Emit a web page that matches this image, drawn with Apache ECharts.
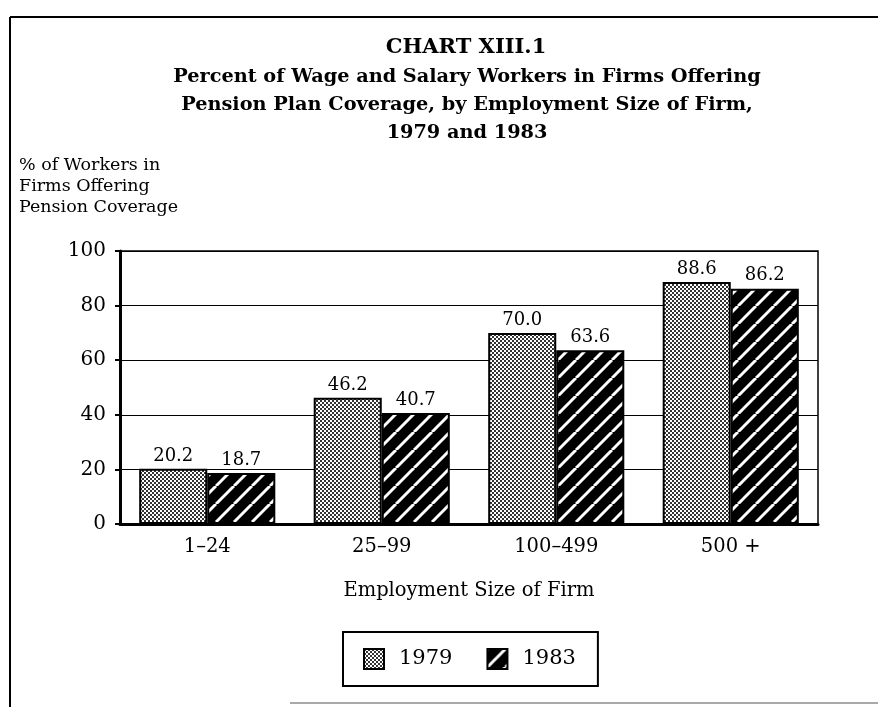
<!DOCTYPE html>
<html>
<head>
<meta charset="utf-8">
<script src="https://cdn.jsdelivr.net/npm/echarts@6/dist/echarts.min.js"></script>
<style>
  html, body { margin: 0; padding: 0; background: #fff; }
  #chart { width: 878px; height: 707px; }
</style>
</head>
<body>
<div id="chart"></div>
<script>
// data
var categories = ['1–24', '25–99', '100–499', '500 +'];
var years = ['1979', '1983'];
var values1979 = [20.2, 46.2, 70.0, 88.6];
var values1983 = [18.7, 40.7, 63.6, 86.2];
var yTicks = [0, 20, 40, 60, 80, 100];

var FONT = 'DejaVu Serif';

// stipple fill for 1979
function dotPattern() {
  var c = document.createElement('canvas');
  c.width = 4; c.height = 4;
  var ctx = c.getContext('2d');
  ctx.fillStyle = '#fff';
  ctx.fillRect(0, 0, 4, 4);
  ctx.fillStyle = '#333';
  ctx.fillRect(0, 0, 2, 2);
  ctx.fillRect(2, 2, 2, 2);
  return c;
}

// black with white diagonal stripes for 1983
function stripePattern() {
  var s = 18;
  var c = document.createElement('canvas');
  c.width = s; c.height = s;
  var ctx = c.getContext('2d');
  ctx.fillStyle = '#000';
  ctx.fillRect(0, 0, s, s);
  ctx.strokeStyle = '#fff';
  ctx.lineWidth = 3;
  [-s, 0, s].forEach(function (k) {
    ctx.beginPath();
    ctx.moveTo(k, s);
    ctx.lineTo(k + s, 0);
    ctx.stroke();
  });
  return c;
}

var chart = echarts.init(document.getElementById('chart'));

var labelStyle = {
  show: true,
  position: 'top',
  distance: 4,
  color: '#000',
  fontFamily: FONT,
  fontSize: 18,
  formatter: function (p) { return p.value.toFixed(1); }
};

var option = {
  backgroundColor: '#fff',
  animation: false,
  title: [
    {
      text: 'CHART XIII.1',
      left: 461,
      top: 32,
      textAlign: 'center',
      textStyle: { fontFamily: FONT, fontSize: 21, fontWeight: 'bold', color: '#000' }
    },
    {
      text: 'Percent of Wage and Salary Workers in Firms Offering\nPension Plan Coverage, by Employment Size of Firm,\n1979 and 1983',
      left: 462,
      top: 58,
      textAlign: 'center',
      textStyle: {
        fontFamily: FONT, fontSize: 19.3, fontWeight: 'bold', color: '#000',
        lineHeight: 28
      }
    },
    {
      text: '% of Workers in\nFirms Offering\nPension Coverage',
      left: 14,
      top: 150,
      textStyle: {
        fontFamily: FONT, fontSize: 17.5, fontWeight: 'normal', color: '#000',
        lineHeight: 21
      }
    }
  ],
  legend: {
    data: years,
    left: 343,
    top: 632,
    orient: 'horizontal',
    itemWidth: 20,
    itemHeight: 20,
    itemGap: 34,
    padding: [16, 22, 16, 20],
    borderColor: '#000',
    borderWidth: 2,
    icon: 'rect',
    textStyle: { fontFamily: FONT, fontSize: 21, color: '#000', padding: [0, 0, 0, 10] }
  },
  grid: {
    left: 120,
    right: 60,
    top: 251,
    bottom: 183,
    show: true,
    borderColor: '#000',
    borderWidth: 1.5
  },
  xAxis: {
    type: 'category',
    data: categories,
    name: 'Employment Size of Firm',
    nameLocation: 'middle',
    nameGap: 57,
    nameTextStyle: { fontFamily: FONT, fontSize: 19.5, color: '#000' },
    axisLine: { lineStyle: { color: '#000', width: 3 } },
    axisTick: { show: false },
    axisLabel: { fontFamily: FONT, fontSize: 19.5, color: '#000', margin: 13 }
  },
  yAxis: {
    type: 'value',
    min: 0,
    max: 100,
    interval: 20,
    axisLine: { show: true, lineStyle: { color: '#000', width: 3 } },
    axisTick: { show: true, length: 5, lineStyle: { color: '#000', width: 2 } },
    axisLabel: {
      fontFamily: FONT, fontSize: 20, color: '#000', margin: 14,
      formatter: function (v) { return yTicks.indexOf(v) >= 0 ? String(v) : ''; }
    },
    splitLine: { show: true, lineStyle: { color: '#000', width: 1 } }
  },
  series: [
    {
      name: years[0],
      type: 'bar',
      data: values1979,
      barGap: '0%',
      barCategoryGap: '22%',
      itemStyle: {
        color: { image: dotPattern(), repeat: 'repeat' },
        borderColor: '#000',
        borderWidth: 2
      },
      label: labelStyle
    },
    {
      name: years[1],
      type: 'bar',
      data: values1983,
      barGap: '0%',
      barCategoryGap: '22%',
      itemStyle: {
        color: { image: stripePattern(), repeat: 'repeat' },
        borderColor: '#000',
        borderWidth: 2
      },
      label: labelStyle
    }
  ],
  graphic: [
    { type: 'line', shape: { x1: 10, y1: 17, x2: 878, y2: 17 }, style: { stroke: '#000', lineWidth: 2 } },
    { type: 'line', shape: { x1: 10, y1: 17, x2: 10, y2: 707 }, style: { stroke: '#000', lineWidth: 2 } },
    { type: 'line', shape: { x1: 290, y1: 703, x2: 878, y2: 703 }, style: { stroke: '#555', lineWidth: 1 } }
  ]
};

chart.setOption(option);
</script>
</body>
</html>
